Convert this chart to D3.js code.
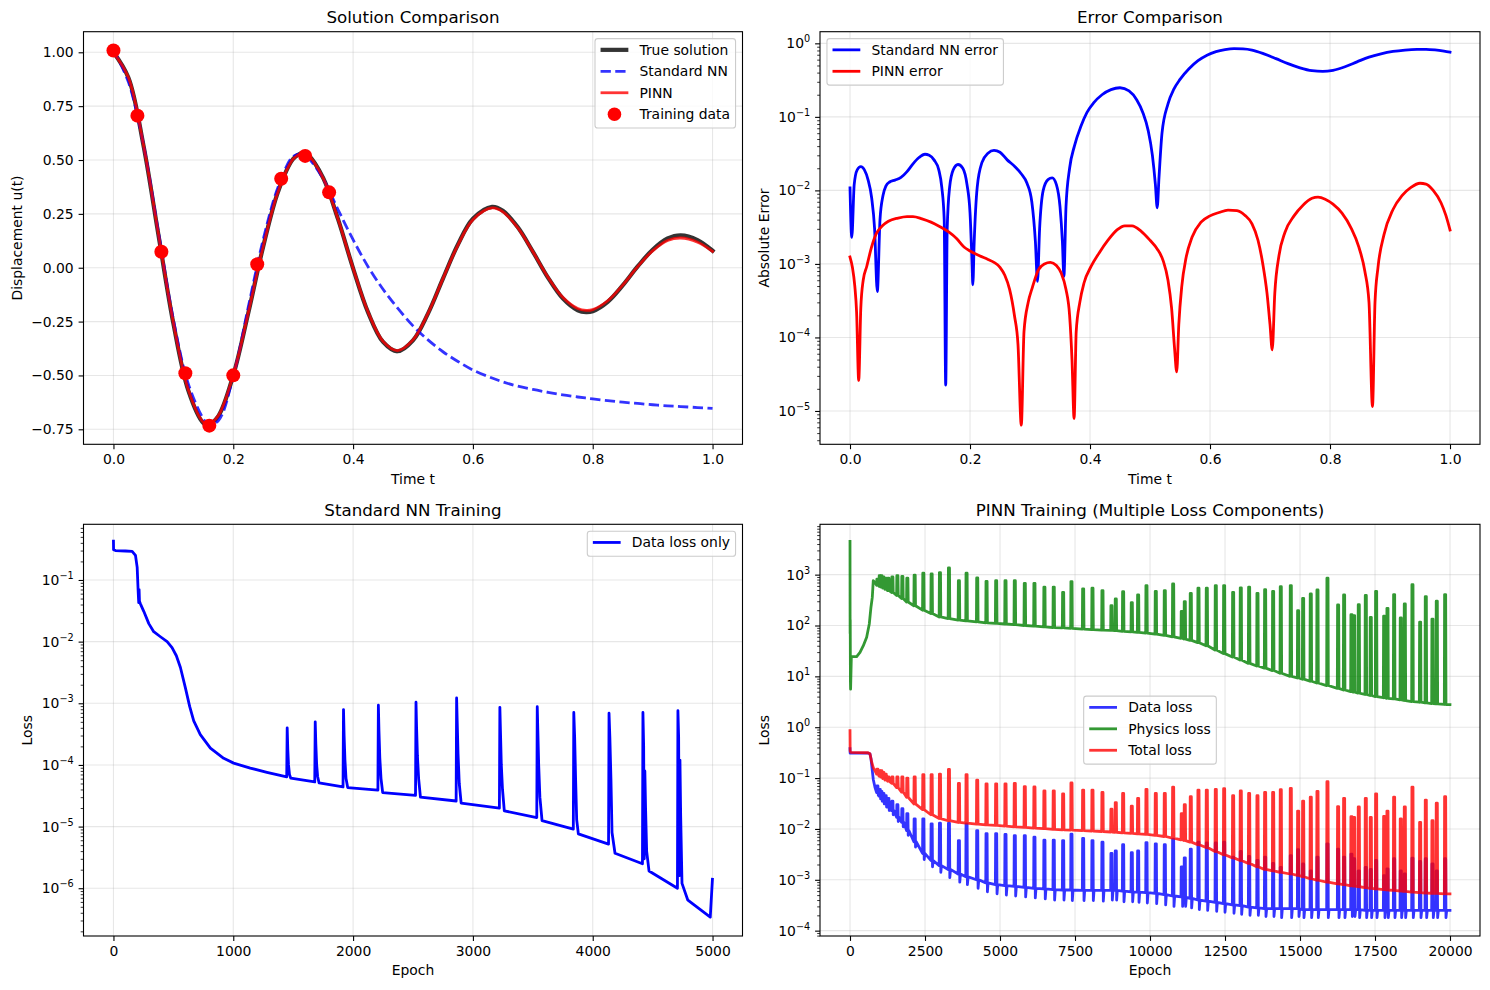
<!DOCTYPE html>
<html>
<head>
<meta charset="utf-8">
<title>PINN vs Standard NN</title>
<script src="https://cdn.jsdelivr.net/npm/d3@7"></script>
<style>
  body { margin: 0; background: #fff; }
  svg text { font-family: "DejaVu Sans", sans-serif; }
</style>
</head>
<body>
<script>
// ---------- Solution comparison ----------
var solT = [0, 0.025, 0.05, 0.075, 0.1, 0.125, 0.15, 0.158, 0.175, 0.2, 0.225, 0.25, 0.275, 0.3, 0.316,
  0.325, 0.35, 0.375, 0.4, 0.425, 0.45, 0.474, 0.5, 0.525, 0.55, 0.575, 0.6, 0.632, 0.65, 0.675,
  0.7, 0.725, 0.75, 0.775, 0.789, 0.8, 0.825, 0.85, 0.875, 0.9, 0.925, 0.947, 0.975, 1.0];
var trueU = [1.0, 0.8815, 0.569, 0.1535, -0.2584, -0.5705, -0.7207, -0.7292, -0.6888, -0.4989, -0.2107, 0.0986, 0.355, 0.505, 0.5318,
  0.5228, 0.417, 0.2241, -0.0026, -0.2072, -0.3446, -0.3878, -0.3369, -0.2128, -0.0503, 0.1078, 0.2273, 0.2828, 0.2641, 0.1878,
  0.0751, -0.0445, -0.1423, -0.1977, -0.2062, -0.2017, -0.1583, -0.0822, 0.0059, 0.0834, 0.1356, 0.1504, 0.1286, 0.0791];
var nnU = [1.011, 0.8615, 0.574, 0.1673, -0.2404, -0.5395, -0.7007, -0.7262, -0.7098, -0.5039, -0.1827, 0.1316, 0.376, 0.517, 0.5278,
  0.5108, 0.413, 0.2691, 0.13, 0.005, -0.10, -0.186, -0.27, -0.335, -0.39, -0.435, -0.475, -0.512, -0.53, -0.55,
  -0.565, -0.578, -0.59, -0.60, -0.605, -0.609, -0.617, -0.624, -0.63, -0.636, -0.641, -0.6445, -0.649, -0.653];
var pinnU = [0.9988, 0.8825, 0.572, 0.1575, -0.254, -0.5665, -0.7173, -0.7261, -0.6863, -0.4974, -0.2095, 0.0995, 0.3552, 0.5046, 0.531,
  0.5218, 0.4164, 0.2242, -0.0017, -0.2052, -0.3416, -0.3845, -0.3349, -0.2118, -0.0505, 0.1053, 0.2228, 0.2774, 0.2591, 0.1848,
  0.0749, -0.0425, -0.1373, -0.1897, -0.1982, -0.1942, -0.1533, -0.0805, 0.0049, 0.0784, 0.1266, 0.1379, 0.1186, 0.0761];
var trainT = [0, 0.04, 0.08, 0.12, 0.16, 0.2, 0.24, 0.28, 0.32, 0.36];
var trainU = [1.008, 0.706, 0.074, -0.49, -0.733, -0.4996, 0.016, 0.413, 0.519, 0.35];

// ---------- Error comparison ----------
var nnErrT = [0.000, 0.003, 0.007, 0.012, 0.018, 0.024, 0.030, 0.036, 0.041, 0.0455,
  0.050, 0.055, 0.060, 0.066, 0.075, 0.085, 0.095, 0.105, 0.115, 0.125,
  0.132, 0.140, 0.148, 0.153, 0.157, 0.1595, 0.162, 0.166, 0.172, 0.180,
  0.188, 0.195, 0.200, 0.2035, 0.2047, 0.207, 0.212, 0.220, 0.230, 0.240,
  0.250, 0.262, 0.275, 0.285, 0.295, 0.303, 0.309, 0.3125, 0.316, 0.322,
  0.330, 0.337, 0.344, 0.350, 0.354, 0.3565, 0.360, 0.366, 0.374, 0.385,
  0.395, 0.406, 0.420, 0.435, 0.450, 0.465, 0.478, 0.488, 0.497, 0.504,
  0.509, 0.512, 0.515, 0.520, 0.530, 0.540, 0.550, 0.565, 0.580, 0.595,
  0.610, 0.625, 0.640, 0.655, 0.670, 0.690, 0.710, 0.730, 0.750, 0.770,
  0.788, 0.805, 0.825, 0.845, 0.865, 0.885, 0.905, 0.925, 0.945, 0.960,
  0.975, 0.990, 1.000];
var nnErr = [0.0108, 0.0023, 0.012, 0.019, 0.021, 0.019, 0.014, 0.008, 0.003, 0.00042,
  0.004, 0.0085, 0.0115, 0.013, 0.0138, 0.015, 0.018, 0.023, 0.028, 0.031,
  0.030, 0.026, 0.019, 0.011, 0.004, 0.0000225, 0.003, 0.011, 0.019, 0.0225,
  0.020, 0.012, 0.005, 0.001, 0.00052, 0.002, 0.011, 0.024, 0.032, 0.035,
  0.033, 0.026, 0.021, 0.017, 0.0125, 0.007, 0.002, 0.00058, 0.003, 0.010,
  0.0140, 0.0148, 0.012, 0.006, 0.002, 0.00068, 0.006, 0.020, 0.040, 0.075,
  0.115, 0.155, 0.200, 0.235, 0.249, 0.225, 0.170, 0.115, 0.065, 0.030,
  0.012, 0.0058, 0.015, 0.060, 0.150, 0.240, 0.323, 0.450, 0.580, 0.690,
  0.770, 0.820, 0.845, 0.840, 0.810, 0.720, 0.620, 0.530, 0.465, 0.425,
  0.415, 0.430, 0.480, 0.560, 0.650, 0.720, 0.775, 0.810, 0.828, 0.830,
  0.815, 0.785, 0.760];
var pinnErrT = [0.000, 0.004, 0.008, 0.011, 0.0145, 0.018, 0.022, 0.028, 0.036, 0.044,
  0.054, 0.064, 0.080, 0.095, 0.105, 0.120, 0.135, 0.150, 0.165, 0.178,
  0.190, 0.200, 0.215, 0.230, 0.240, 0.250, 0.258, 0.266, 0.274, 0.280,
  0.2855, 0.290, 0.297, 0.304, 0.314, 0.324, 0.334, 0.344, 0.352, 0.360,
  0.366, 0.370, 0.3735, 0.377, 0.383, 0.390, 0.402, 0.415, 0.430, 0.445,
  0.458, 0.470, 0.485, 0.500, 0.512, 0.522, 0.530, 0.536, 0.541, 0.5445,
  0.548, 0.553, 0.560, 0.570, 0.585, 0.600, 0.615, 0.630, 0.645, 0.658,
  0.670, 0.680, 0.688, 0.695, 0.700, 0.7037, 0.708, 0.715, 0.725, 0.740,
  0.755, 0.770, 0.780, 0.792, 0.805, 0.820, 0.835, 0.848, 0.858, 0.865,
  0.8708, 0.875, 0.880, 0.890, 0.905, 0.920, 0.935, 0.950, 0.960, 0.972,
  0.985, 0.993, 1.000];
var pinnErr = [0.00124, 0.0009, 0.0005, 0.00022, 0.000026, 0.00025, 0.0006, 0.00093, 0.0017, 0.0026,
  0.0033, 0.0038, 0.0042, 0.0044, 0.0044, 0.0041, 0.0037, 0.0032, 0.0027, 0.0022,
  0.0017, 0.0015, 0.0013, 0.00115, 0.00105, 0.0009, 0.0007, 0.00045, 0.0002, 0.00008,
  0.0000064, 0.00012, 0.0003, 0.00048, 0.00083, 0.001, 0.00105, 0.00095, 0.00075, 0.00045,
  0.0002, 0.00005, 0.0000079, 0.00012, 0.0003, 0.00055, 0.00093, 0.0014, 0.0021, 0.0029,
  0.0033, 0.0033, 0.0028, 0.0021, 0.0016, 0.0011, 0.0006, 0.00025, 0.00007, 0.000034,
  0.00015, 0.0005, 0.0012, 0.0023, 0.0037, 0.0045, 0.005, 0.0054, 0.0053, 0.0046,
  0.0035, 0.0021, 0.001, 0.0004, 0.00015, 0.000068, 0.0004, 0.0013, 0.0027, 0.0045,
  0.0063, 0.0078, 0.0081, 0.0076, 0.0065, 0.0049, 0.0031, 0.0017, 0.0008, 0.0003,
  0.0000115, 0.0003, 0.0009, 0.0025, 0.0055, 0.0085, 0.011, 0.0125, 0.0122, 0.01,
  0.0068, 0.0046, 0.0029];

// ---------- Standard NN training ----------
var stdEpoch = [0, 1, 17, 100, 156, 184, 198, 206, 209, 211, 214, 217, 225, 253, 295, 336, 392, 448, 489, 525,
  559, 600, 636, 670, 725, 809, 920, 1003, 1142, 1281, 1446,
  1450, 1455, 1461, 1469, 1480,
  1680, 1684, 1689, 1696, 1704, 1716,
  1916, 1920, 1925, 1932, 1941, 1955,
  2207, 2211, 2216, 2223, 2233, 2247,
  2521, 2525, 2530, 2537, 2547, 2562,
  2860, 2864, 2869, 2876, 2886, 2902,
  3221, 3225, 3230, 3237, 3247, 3262,
  3533, 3537, 3542, 3549, 3559, 3577,
  3838, 3842, 3849, 3857, 3866, 3880,
  4132, 4136, 4143, 4152, 4161, 4186,
  4415, 4419, 4425, 4430, 4435, 4441, 4450, 4470,
  4707, 4711, 4717, 4723, 4728, 4734, 4745, 4794,
  4981, 4999];
var stdLoss = [0.427, 0.31, 0.30, 0.295, 0.29, 0.25, 0.16, 0.067, 0.05, 0.043, 0.07, 0.045, 0.041, 0.031, 0.0196, 0.0145, 0.012, 0.010, 0.008, 0.0059,
  0.0038, 0.0018, 0.00089, 0.00052, 0.00031, 0.000187, 0.000128, 0.000107, 0.000089, 0.000076, 0.000064,
  4.0e-4, 1.8e-4, 1.0e-4, 7.0e-5, 6.1e-5,
  5.3e-5, 5.0e-4, 2.2e-4, 1.0e-4, 6.5e-5, 5.1e-5,
  4.4e-5, 7.9e-4, 3.0e-4, 1.2e-4, 6.0e-5, 4.3e-5,
  3.9e-5, 9.3e-4, 3.5e-4, 1.3e-4, 6.0e-5, 3.55e-5,
  3.2e-5, 1.04e-3, 4.0e-4, 1.4e-4, 6.0e-5, 3.0e-5,
  2.6e-5, 1.22e-3, 5.0e-4, 1.5e-4, 5.0e-5, 2.4e-5,
  2.0e-5, 8.6e-4, 3.5e-4, 1.0e-4, 4.0e-5, 1.8e-5,
  1.4e-5, 8.8e-4, 3.5e-4, 1.0e-4, 3.0e-5, 1.25e-5,
  9.1e-6, 7.1e-4, 2.9e-4, 6.0e-5, 1.3e-5, 7.6e-6,
  5.2e-6, 6.9e-4, 2.8e-4, 6.0e-5, 8.0e-6, 3.7e-6,
  2.5e-6, 7.1e-4, 2.0e-4, 3.0e-6, 8.0e-5, 2.0e-5, 4.0e-6, 1.9e-6,
  1.0e-6, 7.6e-4, 2.8e-4, 1.6e-6, 1.2e-4, 1.5e-5, 1.2e-6, 6.4e-7,
  3.4e-7, 1.4e-6];

// ---------- PINN training (start segment, then shared spike epochs) ----------
var physStartE = [0, 4, 8, 14, 20, 45, 222, 333, 444, 555, 643, 699, 743, 776, 830];
var physStartV = [4500, 70, 130, 8, 5.6, 24.5, 24.5, 29.5, 40, 59, 107, 229, 357, 760, 700];
var totalStartE = [0, 5, 30, 600, 665, 720, 776, 830];
var totalStartV = [0.86, 0.34, 0.32, 0.315, 0.30, 0.21, 0.16, 0.14];
var dataStartE = [0, 5, 30, 600, 665, 700, 743, 776, 832];
var dataStartV = [0.38, 0.31, 0.31, 0.31, 0.30, 0.24, 0.14, 0.094, 0.066];

var pinnSpikeEpochs = [887, 965, 1020, 1087, 1164, 1253, 1386, 1553, 1719, 1885,
  2129, 2418, 2695, 2972, 3272, 3604, 3859, 4214, 4525, 4846,
  5157, 5467, 5800, 6122, 6454, 6765, 7078, 7356, 7745, 8056,
  8389, 8689, 8833, 9078, 9367, 9578, 9856, 10167, 10467, 10745,
  11033, 11133, 11333, 11589, 11867, 12167, 12445, 12745, 13000, 13278,
  13556, 13811, 14078, 14333, 14667, 14911, 15078, 15333, 15556, 15889,
  16244, 16444, 16689, 16778, 16933, 17167, 17333, 17511, 17778, 17889,
  18111, 18333, 18467, 18722, 18978, 19167, 19389, 19533, 19811];
var physPeak = [820, 955, 955, 900, 850, 850, 900, 955, 920, 850,
  980, 1070, 1030, 1100, 1350, 760, 1070, 860, 740, 760,
  760, 760, 675, 675, 565, 570, 450, 730, 525, 540,
  485, 245, 333, 463, 282, 400, 610, 470, 485, 655,
  190, 295, 430, 540, 540, 610, 610, 450, 550, 565,
  430, 507, 470, 580, 610, 196, 343, 417, 500, 850,
  253, 400, 163, 156, 257, 390, 145, 470, 152, 218,
  405, 141, 265, 635, 116, 370, 134, 300, 405];
var physBase = [620, 590, 570, 545, 515, 485, 445, 390, 340, 290,
  245, 200, 172, 147, 137, 128, 123, 118, 113, 110,
  107, 104, 100, 97, 94, 91, 90, 88, 85, 83,
  81, 80, 79, 77, 75, 73, 71, 68, 64, 60,
  56, 54, 51, 46, 40, 33, 28, 24, 21, 18,
  16, 14.5, 13, 11.5, 10, 9.3, 8.8, 8.0, 7.4, 6.6,
  5.8, 5.4, 5.0, 4.9, 4.7, 4.4, 4.2, 4.0, 3.8, 3.7,
  3.6, 3.45, 3.35, 3.2, 3.1, 3.0, 2.92, 2.87, 2.8];
var totalPeak = [0.15, 0.14, 0.14, 0.13, 0.12, 0.105, 0.106, 0.105, 0.105, 0.10,
  0.105, 0.117, 0.117, 0.12, 0.148, 0.079, 0.117, 0.091, 0.077, 0.077,
  0.077, 0.079, 0.068, 0.067, 0.056, 0.056, 0.049, 0.08, 0.058, 0.058,
  0.052, 0.0245, 0.033, 0.05, 0.028, 0.04, 0.06, 0.05, 0.05, 0.066,
  0.02, 0.03, 0.043, 0.058, 0.058, 0.06, 0.062, 0.045, 0.056, 0.05,
  0.045, 0.052, 0.052, 0.059, 0.063, 0.0224, 0.035, 0.042, 0.055, 0.085,
  0.0275, 0.04, 0.0174, 0.0169, 0.027, 0.04, 0.0169, 0.049, 0.0176, 0.0224,
  0.042, 0.0158, 0.027, 0.066, 0.0135, 0.037, 0.0145, 0.032, 0.043];
var totalBase = [0.12, 0.11, 0.105, 0.098, 0.092, 0.087, 0.079, 0.065, 0.053, 0.042,
  0.031, 0.024, 0.019, 0.016, 0.0145, 0.0134, 0.013, 0.0124, 0.012, 0.0117,
  0.0114, 0.011, 0.0107, 0.0104, 0.0101, 0.0098, 0.0096, 0.0095, 0.0093, 0.0091,
  0.0089, 0.0087, 0.0086, 0.0084, 0.0082, 0.008, 0.0078, 0.0075, 0.0071, 0.0066,
  0.0061, 0.0059, 0.0055, 0.0049, 0.0043, 0.0036, 0.0031, 0.0027, 0.0024, 0.0021,
  0.0018, 0.0016, 0.0015, 0.0014, 0.0013, 0.00122, 0.00115, 0.00105, 0.00098, 0.0009,
  0.00083, 0.0008, 0.00076, 0.00075, 0.00073, 0.0007, 0.00068, 0.00066, 0.00064, 0.00063,
  0.00062, 0.0006, 0.00059, 0.00057, 0.00056, 0.00055, 0.00054, 0.00054, 0.00053];
var dataPeak = [0.07, 0.06, 0.055, 0.05, 0.045, 0.04, 0.035, 0.03, 0.025, 0.02,
  0.0158, 0.0158, 0.0126, 0.013, 0.013, 0.0059, 0.0126, 0.0093, 0.0081, 0.0081,
  0.0078, 0.0074, 0.0074, 0.0069, 0.006, 0.006, 0.0059, 0.0079, 0.0065, 0.0059,
  0.0055, 0.0033, 0.0037, 0.0049, 0.0034, 0.0037, 0.0054, 0.0051, 0.0049, 0.0063,
  0.0018, 0.0027, 0.004, 0.0055, 0.0053, 0.0053, 0.0055, 0.0028, 0.0036, 0.0029,
  0.0024, 0.0028, 0.0021, 0.00176, 0.003, 0.0039, 0.00205, 0.0015, 0.0028, 0.0051,
  0.004, 0.0028, 0.0032, 0.0026, 0.0015, 0.00176, 0.0016, 0.0024, 0.0012, 0.00164,
  0.0026, 0.0015, 0.0013, 0.00265, 0.0023, 0.0026, 0.00205, 0.0015, 0.0026];
var dataBase = [0.052, 0.044, 0.04, 0.036, 0.031, 0.027, 0.023, 0.017, 0.0135, 0.0093,
  0.0056, 0.0033, 0.0024, 0.0019, 0.0016, 0.0013, 0.00115, 0.001, 0.00087, 0.0008,
  0.00077, 0.00074, 0.00071, 0.00068, 0.00066, 0.00064, 0.00063, 0.00063, 0.00062, 0.00062,
  0.00062, 0.00062, 0.00062, 0.0006, 0.00058, 0.00057, 0.00056, 0.00054, 0.00051, 0.00048,
  0.00046, 0.00045, 0.00043, 0.0004, 0.00038, 0.00036, 0.00034, 0.00032, 0.00031, 0.00029,
  0.00028, 0.00027, 0.00027, 0.00027, 0.00027, 0.00027, 0.00026, 0.00026, 0.00026, 0.00026,
  0.00026, 0.00026, 0.00026, 0.00026, 0.00026, 0.00025, 0.00025, 0.00025, 0.00025, 0.00025,
  0.00025, 0.00025, 0.00025, 0.00025, 0.00025, 0.00025, 0.00025, 0.00025, 0.00025];
var dataLow = [0.046, 0.039, 0.035, 0.031, 0.027, 0.023, 0.019, 0.014, 0.011, 0.0075,
  0.0044, 0.0025, 0.0018, 0.0014, 0.0011, 0.0009, 0.0008, 0.00068, 0.00058, 0.00053,
  0.0005, 0.00048, 0.00046, 0.00044, 0.00042, 0.0004, 0.0004, 0.00039, 0.00039, 0.00039,
  0.00038, 0.0004, 0.0004, 0.00037, 0.00037, 0.00036, 0.00035, 0.00034, 0.00032, 0.0003,
  0.0003, 0.0003, 0.00028, 0.00026, 0.00025, 0.00024, 0.00023, 0.00022, 0.00021, 0.0002,
  0.0002, 0.00019, 0.00019, 0.00018, 0.00018, 0.00019, 0.00018, 0.00018, 0.00018, 0.00018,
  0.00018, 0.00018, 0.00019, 0.00019, 0.00018, 0.00018, 0.00018, 0.00018, 0.00018, 0.00018,
  0.00018, 0.00018, 0.00018, 0.00018, 0.00018, 0.00018, 0.00018, 0.00018, 0.00018];
var pinnEndEpoch = 19999;
var physEnd = 2.78, totalEnd = 0.00053, dataEnd = 0.00025;

// ---------- drawing ----------
var FONT = "DejaVu Sans";
var FS = 13.9;      // 10pt at 100 dpi
var LW = 2.8;       // linewidth 2
// spike outline in epochs: rise, hold at peak, drop, recover (blue only)
var SPIKE_UP = 8, SPIKE_HOLD = 45, SPIKE_DOWN = 55, SPIKE_BACK = 78;

var svg = d3.select("body").append("svg").attr("width", 1490).attr("height", 990);
svg.append("rect").attr("width", 1490).attr("height", 990).attr("fill", "#fff");

function zip(xs, ys) { return xs.map(function(v, i) { return [v, ys[i]]; }); }

function logMinors(domain) {
  var out = [];
  for (var p = Math.floor(Math.log10(domain[0])); p <= Math.ceil(Math.log10(domain[1])); p++) {
    for (var k = 2; k <= 9; k++) {
      var v = k * Math.pow(10, p);
      if (v > domain[0] && v < domain[1]) out.push(v);
    }
  }
  return out;
}

function powerLabels(axisG) {
  axisG.selectAll(".tick text").each(function(d) {
    var p = Math.round(Math.log10(d));
    var t = d3.select(this).text("");
    t.append("tspan").text("10");
    t.append("tspan").attr("dy", -6).attr("font-size", 9.7).text(p < 0 ? "\u2212" + (-p) : String(p));
  });
}

function makeAxes(o) {
  var g = svg.append("g").attr("transform", "translate(" + o.left + "," + o.top + ")");
  var x = d3.scaleLinear().domain(o.xDomain).range([0, o.width]);
  var y = (o.log ? d3.scaleLog() : d3.scaleLinear()).domain(o.yDomain).range([o.height, 0]);

  var grid = g.append("g").attr("stroke", "#b0b0b0").attr("stroke-opacity", 0.3).attr("stroke-width", 1.1);
  o.xTicks.forEach(function(v) { grid.append("line").attr("x1", x(v)).attr("x2", x(v)).attr("y1", 0).attr("y2", o.height); });
  o.yTicks.forEach(function(v) { grid.append("line").attr("x1", 0).attr("x2", o.width).attr("y1", y(v)).attr("y2", y(v)); });

  g.append("clipPath").attr("id", "clip" + o.id).append("rect").attr("width", o.width).attr("height", o.height);
  var plot = g.append("g").attr("clip-path", "url(#clip" + o.id + ")");
  var over = g.append("g");

  var xAxis = over.append("g").attr("transform", "translate(0," + o.height + ")")
    .call(d3.axisBottom(x).tickValues(o.xTicks).tickFormat(o.xFormat).tickSize(4.9).tickPadding(4.9));
  var yAxis = over.append("g")
    .call(d3.axisLeft(y).tickValues(o.yTicks).tickFormat(o.log ? null : o.yFormat).tickSize(4.9).tickPadding(4.9));
  [xAxis, yAxis].forEach(function(a) {
    a.attr("font-family", FONT).attr("font-size", FS);
    a.select(".domain").remove();
    a.selectAll(".tick line").attr("stroke-width", 1.1);
  });
  if (o.log) {
    powerLabels(yAxis);
    var minor = over.append("g")
      .call(d3.axisLeft(y).tickValues(logMinors(o.yDomain)).tickFormat("").tickSize(2.8));
    minor.select(".domain").remove();
    minor.selectAll(".tick line").attr("stroke-width", 0.8);
  }

  over.append("rect").attr("width", o.width).attr("height", o.height)
    .attr("fill", "none").attr("stroke", "#000").attr("stroke-width", 1.1);
  over.append("text").attr("x", o.width / 2).attr("y", -8.3).attr("text-anchor", "middle")
    .attr("font-size", 16.7).text(o.title);
  over.append("text").attr("x", o.width / 2).attr("y", o.height + 39.5).attr("text-anchor", "middle")
    .attr("font-size", FS).text(o.xLabel);
  over.append("text").attr("transform", "translate(" + o.yLabelX + "," + (o.height / 2) + ") rotate(-90)")
    .attr("text-anchor", "middle").attr("font-size", FS).text(o.yLabel);

  return { plot: plot, over: over, x: x, y: y, width: o.width, height: o.height };
}

function drawLine(ax, pts, st, curve) {
  var line = d3.line().x(function(d) { return ax.x(d[0]); }).y(function(d) { return ax.y(d[1]); })
    .curve(curve || d3.curveLinear);
  ax.plot.append("path").datum(pts).attr("d", line)
    .attr("fill", "none").attr("stroke", st.color).attr("stroke-width", st.width)
    .attr("stroke-opacity", st.opacity == null ? 1 : st.opacity)
    .attr("stroke-dasharray", st.dash || null)
    .attr("stroke-linejoin", "round").attr("stroke-linecap", st.dash ? "butt" : "square");
}

function addLegend(ax, entries, pos) {
  var pad = 0.4 * FS, hl = 2 * FS, htp = 0.8 * FS, row = 21.45, gap = 0.5 * FS;
  var lg = ax.over.append("g");
  var box = lg.append("rect");
  var labels = entries.map(function(e) { return lg.append("text").attr("font-size", FS).text(e.label); });
  var tw = d3.max(labels, function(t) { return t.node().getComputedTextLength(); });
  var bw = 2 * pad + hl + htp + tw, bh = entries.length * row + 3.6;
  var bx, by;
  if (pos === "upper right") { bx = ax.width - gap - bw; by = gap; }
  else if (pos === "upper left") { bx = gap; by = gap; }
  else { bx = (ax.width - bw) / 2; by = (ax.height - bh) / 2; }
  box.attr("x", bx).attr("y", by).attr("width", bw).attr("height", bh).attr("rx", 2.8)
    .attr("fill", "#fff").attr("fill-opacity", 0.8).attr("stroke", "#cccccc").attr("stroke-width", 1.1);
  entries.forEach(function(e, i) {
    var cy = by + 11.2 + i * row, hx = bx + pad;
    if (e.marker) {
      lg.append("circle").attr("cx", hx + hl / 2).attr("cy", cy).attr("r", e.r).attr("fill", e.color);
    } else {
      lg.append("line").attr("x1", hx).attr("x2", hx + hl).attr("y1", cy).attr("y2", cy)
        .attr("stroke", e.color).attr("stroke-width", e.width)
        .attr("stroke-opacity", e.opacity == null ? 1 : e.opacity)
        .attr("stroke-dasharray", e.dash || null);
    }
    labels[i].attr("x", hx + hl + htp).attr("y", cy + 5);
  });
}

function pinnSeries(startE, startV, peak, base, low, endV) {
  var pts = zip(startE, startV);
  pinnSpikeEpochs.forEach(function(e, i) {
    pts.push([e, base[i]]);
    pts.push([e + SPIKE_UP, peak[i]]);
    pts.push([e + SPIKE_HOLD, peak[i]]);
    if (low) {
      pts.push([e + SPIKE_DOWN, low[i]]);
      pts.push([e + SPIKE_BACK, base[i]]);
    } else {
      pts.push([e + SPIKE_DOWN, base[i]]);
    }
  });
  pts.push([pinnEndEpoch, endV]);
  return pts;
}

var fmt1 = d3.format(".1f"), fmt2 = d3.format(".2f"), fmtInt = d3.format("d");

// Panel 1: Solution Comparison
var ax1 = makeAxes({ id: 1, left: 83.5, top: 31.7, width: 659, height: 412.6,
  xDomain: [-0.05, 1.05], yDomain: [-0.8196, 1.0956],
  xTicks: [0, 0.2, 0.4, 0.6, 0.8, 1.0], yTicks: [-0.75, -0.5, -0.25, 0, 0.25, 0.5, 0.75, 1.0],
  xFormat: fmt1, yFormat: fmt2, title: "Solution Comparison", xLabel: "Time t",
  yLabel: "Displacement u(t)", yLabelX: -61.8 });
drawLine(ax1, zip(solT, trueU), { color: "#000", width: 4.2, opacity: 0.8 }, d3.curveCatmullRom);
drawLine(ax1, zip(solT, nnU), { color: "#0000ff", width: LW, opacity: 0.8, dash: "10.3,4.4" }, d3.curveCatmullRom);
drawLine(ax1, zip(solT, pinnU), { color: "#ff0000", width: LW, opacity: 0.8 }, d3.curveCatmullRom);
ax1.plot.selectAll("circle.train").data(zip(trainT, trainU)).enter().append("circle")
  .attr("class", "train").attr("cx", function(d) { return ax1.x(d[0]); }).attr("cy", function(d) { return ax1.y(d[1]); })
  .attr("r", 7).attr("fill", "#ff0000");
addLegend(ax1, [
  { label: "True solution", color: "#000", width: 4.2, opacity: 0.8 },
  { label: "Standard NN", color: "#0000ff", width: LW, opacity: 0.8, dash: "10.3,4.4" },
  { label: "PINN", color: "#ff0000", width: LW, opacity: 0.8 },
  { label: "Training data", color: "#ff0000", marker: true, r: 6.8 }
], "upper right");

// Panel 2: Error Comparison
var ax2 = makeAxes({ id: 2, left: 820, top: 31.7, width: 660, height: 412.6, log: true,
  xDomain: [-0.05, 1.05], yDomain: [3.52e-6, 1.44],
  xTicks: [0, 0.2, 0.4, 0.6, 0.8, 1.0], yTicks: [1e-5, 1e-4, 1e-3, 1e-2, 1e-1, 1],
  xFormat: fmt1, title: "Error Comparison", xLabel: "Time t", yLabel: "Absolute Error", yLabelX: -51 });
drawLine(ax2, zip(nnErrT, nnErr), { color: "#0000ff", width: LW }, d3.curveMonotoneX);
drawLine(ax2, zip(pinnErrT, pinnErr), { color: "#ff0000", width: LW }, d3.curveMonotoneX);
addLegend(ax2, [
  { label: "Standard NN error", color: "#0000ff", width: LW },
  { label: "PINN error", color: "#ff0000", width: LW }
], "upper left");

// Panel 3: Standard NN Training
var ax3 = makeAxes({ id: 3, left: 83.5, top: 524.3, width: 659, height: 411.7, log: true,
  xDomain: [-250, 5250], yDomain: [1.68e-7, 0.80],
  xTicks: [0, 1000, 2000, 3000, 4000, 5000], yTicks: [1e-6, 1e-5, 1e-4, 1e-3, 1e-2, 1e-1],
  xFormat: fmtInt, title: "Standard NN Training", xLabel: "Epoch", yLabel: "Loss", yLabelX: -52 });
drawLine(ax3, zip(stdEpoch, stdLoss), { color: "#0000ff", width: LW });
addLegend(ax3, [{ label: "Data loss only", color: "#0000ff", width: LW }], "upper right");

// Panel 4: PINN Training
var ax4 = makeAxes({ id: 4, left: 820, top: 524.3, width: 660, height: 411.7, log: true,
  xDomain: [-1000, 21000], yDomain: [7.85e-5, 9770],
  xTicks: [0, 2500, 5000, 7500, 10000, 12500, 15000, 17500, 20000],
  yTicks: [1e-4, 1e-3, 1e-2, 1e-1, 1, 10, 100, 1000],
  xFormat: fmtInt, title: "PINN Training (Multiple Loss Components)", xLabel: "Epoch", yLabel: "Loss", yLabelX: -51 });
drawLine(ax4, pinnSeries(dataStartE, dataStartV, dataPeak, dataBase, dataLow, dataEnd), { color: "#0000ff", width: LW, opacity: 0.8 });
drawLine(ax4, pinnSeries(physStartE, physStartV, physPeak, physBase, null, physEnd), { color: "#008000", width: LW, opacity: 0.8 });
drawLine(ax4, pinnSeries(totalStartE, totalStartV, totalPeak, totalBase, null, totalEnd), { color: "#ff0000", width: LW, opacity: 0.8 });
addLegend(ax4, [
  { label: "Data loss", color: "#0000ff", width: LW, opacity: 0.8 },
  { label: "Physics loss", color: "#008000", width: LW, opacity: 0.8 },
  { label: "Total loss", color: "#ff0000", width: LW, opacity: 0.8 }
], "center");
</script>
</body>
</html>
